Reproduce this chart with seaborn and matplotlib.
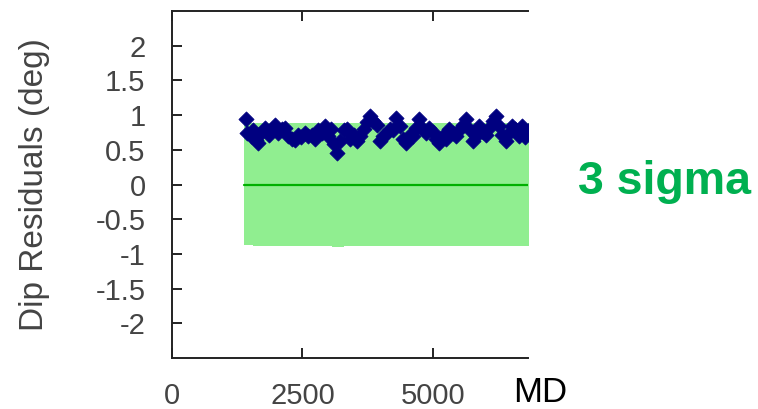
import matplotlib
matplotlib.use("Agg")
import matplotlib.pyplot as plt
import seaborn as sns
import pandas as pd

# Measured depth (MD) and dip residual (deg) of each survey station
md = [1420, 1440, 1510, 1560, 1600, 1650, 1720, 1790, 1850, 1910, 1980, 2040,
      2100, 2170, 2230, 2300, 2360, 2420, 2480, 2550, 2610, 2680, 2740, 2800,
      2870, 2930, 2990, 3050, 3100, 3160, 3220, 3290, 3350, 3410, 3480, 3540,
      3600, 3670, 3730, 3790, 3860, 3920, 3980, 4050, 4110, 4170, 4240, 4300,
      4360, 4430, 4490, 4550, 4620, 4680, 4740, 4810, 4870, 4930, 5000, 5060,
      5120, 5190, 5250, 5310, 5380, 5440, 5500, 5570, 5630, 5690, 5760, 5820,
      5880, 5950, 6010, 6070, 6140, 6200, 6260, 6330, 6390, 6450, 6520, 6580,
      6640, 6710, 6770, 6830]
dip_res = [0.95, 0.74, 0.70, 0.78, 0.64, 0.60, 0.76, 0.82, 0.72, 0.80, 0.86, 0.74,
           0.80, 0.82, 0.70, 0.66, 0.64, 0.72, 0.68, 0.74, 0.70, 0.72, 0.66, 0.78,
           0.74, 0.84, 0.70, 0.80, 0.58, 0.46, 0.62, 0.78, 0.80, 0.66, 0.72, 0.62,
           0.70, 0.80, 0.90, 0.98, 0.92, 0.86, 0.62, 0.70, 0.74, 0.80, 0.78, 0.96,
           0.84, 0.66, 0.60, 0.72, 0.70, 0.82, 0.94, 0.80, 0.74, 0.82, 0.76, 0.66,
           0.60, 0.70, 0.66, 0.80, 0.74, 0.70, 0.78, 0.86, 0.94, 0.80, 0.62, 0.70,
           0.84, 0.76, 0.72, 0.82, 0.92, 0.98, 0.84, 0.72, 0.62, 0.74, 0.84, 0.80,
           0.70, 0.84, 0.68, 0.78]

# 3-sigma tolerance envelope
band_md = [1380, 1560, 3060, 3300, 6640, 7200]
band_hi = [0.89, 0.89, 0.89, 0.89, 0.88, 0.88]
band_lo = [-0.87, -0.89, -0.90, -0.89, -0.88, -0.88]

y_ticks = [-2, -1.5, -1, -0.5, 0, 0.5, 1, 1.5, 2]
y_tick_labels = ["-2", "-1.5", "-1", "-0.5", "0", "0.5", "1", "1.5", "2"]
x_ticks = [0, 2500, 5000]
x_tick_labels = ["0", "2500", "5000"]

df = pd.DataFrame({"MD": md, "Residual": dip_res})

sns.set_theme(style="ticks")
plt.rcParams["font.family"] = ["Liberation Sans", "DejaVu Sans"]

fig = plt.figure(figsize=(7.58, 4.09), dpi=100)
ax = fig.add_axes([172 / 758, 1 - 358 / 409, (528 - 172) / 758, (358 - 11) / 409])

ax.fill_between(band_md, band_lo, band_hi, step="post", color="lightgreen",
                linewidth=0, zorder=1)
ax.plot([band_md[0], band_md[-1]], [0, 0], color="#00B000", linewidth=1.6, zorder=2)

sns.scatterplot(data=df, x="MD", y="Residual", marker="D", s=60,
                color="#000080", edgecolor="#000080", linewidth=0.5,
                ax=ax, zorder=3, legend=False)

ax.set_xlim(0, 6820)
ax.set_ylim(-2.5, 2.5)
ax.set_xticks(x_ticks)
ax.set_xticklabels(x_tick_labels)
ax.set_yticks(y_ticks)
ax.set_yticklabels(y_tick_labels)

ax.spines["right"].set_visible(False)
for side in ("left", "top", "bottom"):
    ax.spines[side].set_color("#222222")
    ax.spines[side].set_linewidth(1.4)

ax.tick_params(axis="both", direction="in", length=7, width=1.4, color="#222222",
               labelsize=21, labelcolor="#444444")
ax.tick_params(axis="x", top=True, pad=17)
ax.tick_params(axis="y", right=False, pad=19)

ax.set_xlabel("")
ax.set_ylabel("Dip Residuals (deg)", fontsize=24, color="#444444", labelpad=33)

fig.text(513 / 758, 1 - 393 / 409, "MD", fontsize=25, color="black",
         ha="left", va="center")
fig.text(578 / 758, 1 - 182 / 409, "3 sigma", fontsize=33.5, fontweight="bold",
         color="#00B050", ha="left", va="center")

fig.savefig("out.png", dpi=100)
